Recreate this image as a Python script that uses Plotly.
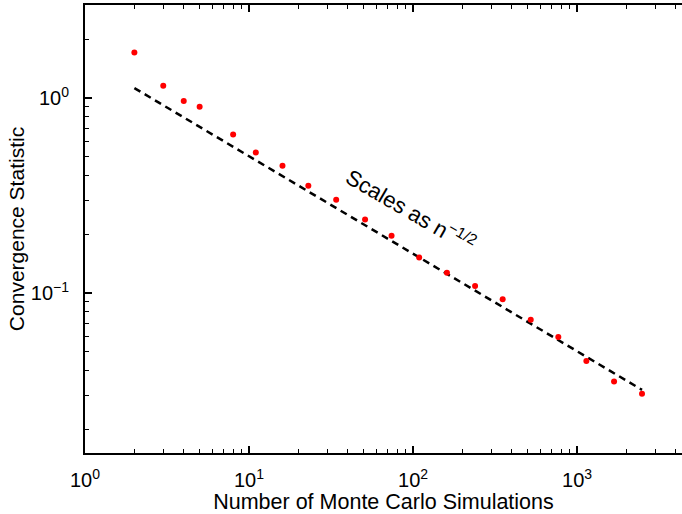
import plotly.graph_objects as go

# Data
n_sims = [2, 3, 4, 5, 8, 11, 16, 23, 34, 51, 74, 109, 161, 239, 352, 522, 769, 1140, 1682, 2490]
conv_stat = [1.71, 1.156, 0.965, 0.902, 0.651, 0.526, 0.45, 0.355, 0.301, 0.238,
             0.197, 0.152, 0.127, 0.1086, 0.093, 0.073, 0.0595, 0.0448, 0.0352, 0.0305]

# Reference n^-1/2 line endpoints
ref_n = [2, 2490]
ref_y = [1.125, 0.0319]

x_tickvals = [1, 10, 100, 1000]
x_ticktext = ["10<sup>0</sup>", "10<sup>1</sup>", "10<sup>2</sup>", "10<sup>3</sup>"]
x_minor = [2, 3, 4, 5, 6, 7, 8, 9, 20, 30, 40, 50, 60, 70, 80, 90,
           200, 300, 400, 500, 600, 700, 800, 900, 2000, 3000, 4000]
y_tickvals = [0.1, 1]
y_ticktext = ["10<sup>\u22121</sup>", "10<sup>0</sup>"]
y_minor = [0.02, 0.03, 0.04, 0.05, 0.06, 0.07, 0.08, 0.09,
           0.2, 0.3, 0.4, 0.5, 0.6, 0.7, 0.8, 0.9, 2, 3]

FONT = "Liberation Sans, Arial, Helvetica, sans-serif"

fig = go.Figure()
fig.add_trace(go.Scatter(
    x=ref_n, y=ref_y, mode="lines",
    line=dict(color="black", width=2.5, dash="7px,5px"),
    showlegend=False, hoverinfo="skip"))
fig.add_trace(go.Scatter(
    x=n_sims, y=conv_stat, mode="markers",
    marker=dict(color="#ff0000", size=6, line=dict(width=0)),
    showlegend=False))

axis_common = dict(
    type="log", showgrid=False, zeroline=False, automargin=False,
    showline=True, linecolor="black", linewidth=2,
    ticks="inside", ticklen=7, tickwidth=1.5, tickcolor="black",
    tickfont=dict(family=FONT, size=20, color="black"),
)

fig.update_layout(
    width=682, height=514,
    margin=dict(l=85, r=0, t=5, b=61),
    paper_bgcolor="white", plot_bgcolor="white",
    font=dict(family=FONT, color="black"),
    xaxis=dict(axis_common, range=[0, 3.64], mirror="ticks",
               tickvals=x_tickvals, ticktext=x_ticktext,
               minor=dict(tickmode="array", tickvals=x_minor, ticks="inside",
                          ticklen=4, tickwidth=1, tickcolor="black", showgrid=False),
               ticklabelstandoff=8,
               title=dict(text="Number of Monte Carlo Simulations",
                          font=dict(family=FONT, size=21.5, color="black"),
                          standoff=0)),
    yaxis=dict(axis_common, range=[-1.82, 0.477], mirror=False,
               tickvals=y_tickvals, ticktext=y_ticktext,
               minor=dict(tickmode="array", tickvals=y_minor, ticks="inside",
                          ticklen=4, tickwidth=1, tickcolor="black", showgrid=False),
               ticklabelstandoff=10,
               title=dict(text="Convergence Statistic",
                          font=dict(family=FONT, size=21, color="black"),
                          standoff=0)),
    annotations=[dict(
        x=1.99, y=-0.573, xref="x", yref="y",
        text="Scales as n<sup>\u22121/2</sup>", showarrow=False,
        textangle=30, font=dict(family=FONT, size=22, color="black"),
        xanchor="center", yanchor="middle")],
)

fig.write_html("out.html", config={"displayModeBar": False},
               post_script="document.body.style.margin='0';document.body.style.padding='0';")
